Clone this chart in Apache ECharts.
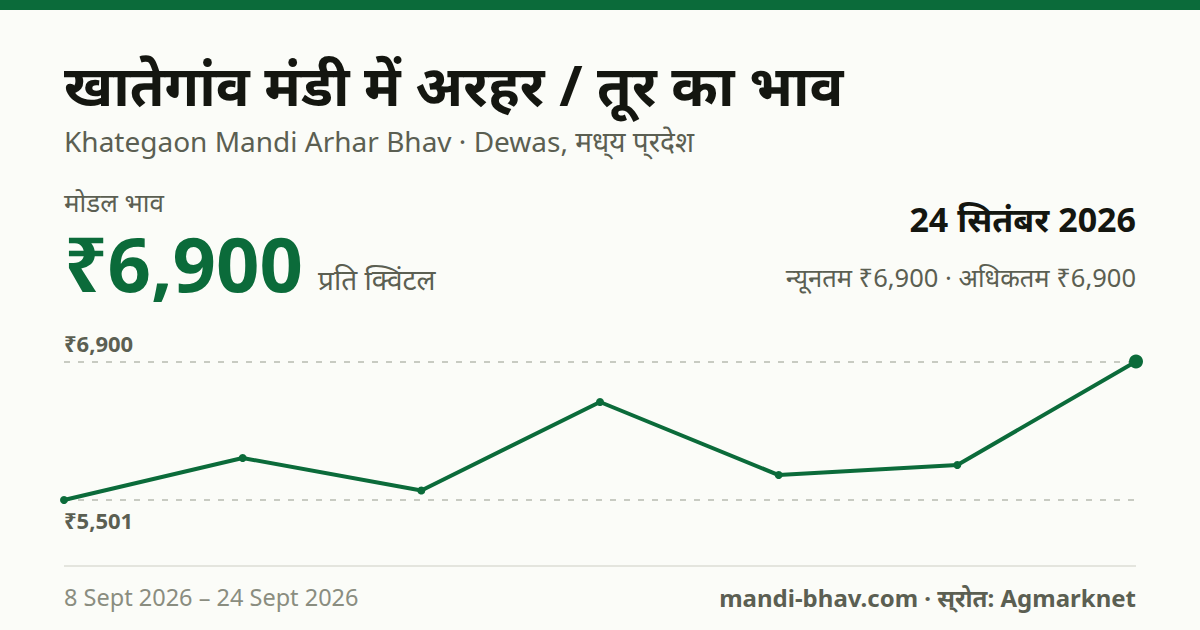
<!DOCTYPE html>
<html lang="hi"><head><meta charset="utf-8">
<style>html,body{margin:0;padding:0;background:#fbfcf8}#c{width:1200px;height:630px}</style>
<script src="https://cdn.jsdelivr.net/npm/echarts@6/dist/echarts.min.js"></script>
</head><body><div id="c"></div>
<script>
const dates=['8 Sept','11 Sept','14 Sept','16 Sept','19 Sept','22 Sept','24 Sept'];
const prices=[5501,5925,5597,6491,5753,5855,6900];
const refLevels=[6900,5501];
const refLabels=['₹6,900','₹5,501'];
const F='"Noto Sans",sans-serif';
const GREEN='#0b6b3a',DARK='#141610',GRAY='#5b5f52',LIGHT='#8a8d80';
function T(x,y,text,size,weight,fill,align){
  return {type:'text',x:x,y:y,silent:true,style:{text:text,font:weight+' '+size+'px '+F,fill:fill,textAlign:align||'left',textVerticalAlign:'middle'}};
}
const chart=echarts.init(document.getElementById('c'),null,{renderer:'svg',width:1200,height:630});
chart.setOption({
  animation:false,
  backgroundColor:'#fbfcf8',
  grid:{left:64,right:64,top:361.5,height:138.5,containLabel:false},
  xAxis:{type:'category',data:dates,boundaryGap:false,axisLine:{show:false},axisTick:{show:false},axisLabel:{show:false},splitLine:{show:false}},
  yAxis:{type:'value',min:5501,max:6900,axisLine:{show:false},axisTick:{show:false},axisLabel:{show:false},splitLine:{show:false}},
  series:[{
    type:'line',data:prices.map((v,i)=>({value:v,symbolSize:i===prices.length-1?14:8})),
    symbol:'circle',lineStyle:{color:GREEN,width:4},itemStyle:{color:GREEN},clip:false,
    markLine:{silent:true,symbol:'none',z:1,
      lineStyle:{color:'#b8bab0',type:[6,8],width:1.5},
      label:{show:false},
      data:refLevels.map(v=>({yAxis:v}))}
  }],
  graphic:[
    {type:'rect',shape:{x:0,y:0,width:1200,height:10},style:{fill:GREEN},silent:true},
    {type:'rect',shape:{x:64,y:565,width:1072,height:2},style:{fill:'#e4e5de'},silent:true},
    T(64,84,'खातेगांव मंडी में अरहर / तूर का भाव',56.2,700,DARK),
    T(64,141,'Khategaon Mandi Arhar Bhav · Dewas, मध्\u200Cय प्\u200Cरदेश',28,400,GRAY),
    T(64,202,'मोडल भाव',26,400,GRAY),
    T(64,262,'₹6,900',76,700,GREEN),
    T(318,279,'प्रति क्विंटल',28,400,GRAY),
    T(1136,219,'24 सितंबर 2026',34,700,DARK,'right'),
    T(1136,277,'न्यूनतम ₹6,900 · अधिकतम ₹6,900',25.5,400,GRAY,'right'),
    T(64,343,refLabels[0],22,700,GRAY),
    T(64,520,refLabels[1],22,700,GRAY),
    T(64,597,'8 Sept 2026 – 24 Sept 2026',23.5,400,LIGHT),
    T(1136,597,'mandi-bhav.com · स्\u200Cरोत: Agmarknet',24,700,GRAY,'right')
  ]
});
</script></body></html>
